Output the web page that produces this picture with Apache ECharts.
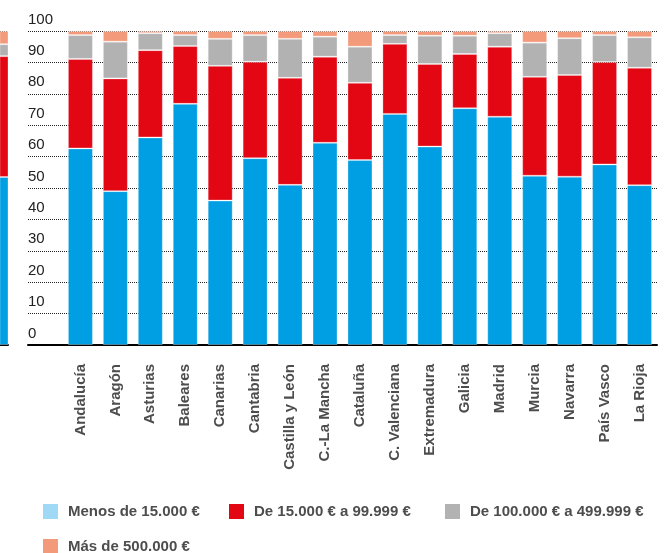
<!DOCTYPE html>
<html>
<head>
<meta charset="utf-8">
<script src="https://cdn.jsdelivr.net/npm/echarts@6/dist/echarts.min.js"></script>
<style>
html,body{margin:0;padding:0;background:#fff;}
#chart{width:664px;height:553px;}
</style>
</head>
<body>
<div id="chart"></div>
<script>
// Data
var categories = ['Andalucía','Aragón','Asturias','Baleares','Canarias','Cantabria','Castilla y León','C.-La Mancha','Cataluña','C. Valenciana','Extremadura','Galicia','Madrid','Murcia','Navarra','País Vasco','La Rioja'];
var seriesNames = ['Menos de 15.000 €','De 15.000 € a 99.999 €','De 100.000 € a 499.999 €','Más de 500.000 €'];
var menos15000   = [62.6, 49.0, 66.1, 76.8, 46.0, 59.5, 51.0, 64.4, 58.9, 73.6, 63.2, 75.4, 72.7, 53.9, 53.6, 57.5, 50.9];
var de15a99999   = [28.5, 35.9, 27.8, 18.4, 42.9, 30.7, 34.1, 27.4, 24.6, 22.3, 26.3, 17.3, 22.3, 31.5, 32.4, 32.6, 37.4];
var de100a499999 = [ 7.6, 11.7,  5.4,  3.5,  8.6,  8.5, 12.4,  6.4, 11.5,  2.8,  9.0,  5.8,  4.3, 10.9, 11.7,  8.6,  9.7];
var mas500000    = [ 1.3,  3.4,  0.7,  1.3,  2.5,  1.3,  2.5,  1.8,  5.0,  1.3,  1.5,  1.5,  0.7,  3.7,  2.3,  1.3,  2.0];
var yTicks = [0,10,20,30,40,50,60,70,80,90,100];
// cropped neighbouring chart visible at the left edge
var neighbourValues = [53.5, 38.5, 3.8, 4.2];

var barColors = ['#009ee2','#e30613','#b2b2b2','#f39a7b'];
var legendColors = ['#a0d9f6','#e30613','#b2b2b2','#f39a7b'];
var dataSets = [menos15000, de15a99999, de100a499999, mas500000];

var chart = echarts.init(document.getElementById('chart'));

var xCats = [''].concat(categories);
var series = [];
dataSets.forEach(function(arr, i){
  series.push({
    name: seriesNames[i], type: 'bar', stack: 'total', barWidth: 25,
    xAxisIndex: 0, yAxisIndex: 0,
    itemStyle: {color: barColors[i], borderColor: 'rgba(255,255,255,0.3)', borderWidth: 1},
    emphasis: {disabled: true},
    data: [null].concat(arr)
  });
});
neighbourValues.forEach(function(v, i){
  series.push({
    name: 'n' + i, type: 'bar', stack: 'nb', barWidth: 25,
    xAxisIndex: 1, yAxisIndex: 1,
    itemStyle: {color: barColors[i], borderColor: 'rgba(255,255,255,0.3)', borderWidth: 1},
    data: [v]
  });
});

var legendPos = [[38,499],[224,499],[440,499],[38,534]];
var legends = seriesNames.map(function(n, i){
  return {
    left: legendPos[i][0], top: legendPos[i][1],
    itemWidth: 15, itemHeight: 15, icon: 'rect',
    selectedMode: false,
    data: [{name: n, itemStyle: {color: legendColors[i], borderWidth: 0}}],
    textStyle: {fontFamily: 'Liberation Sans', fontWeight: 'bold', fontSize: 15, color: '#4d4d4d', lineHeight: 15, padding: [0,0,0,5]}
  };
});

var splitLine = {show: true, lineStyle: {type: [1,1], color: '#222', width: 1}};

chart.setOption({
  animation: false,
  legend: legends,
  grid: [
    {left: 28, right: 7, top: 31, bottom: 208},
    {left: -22, width: 30, top: 31, bottom: 208}
  ],
  xAxis: [
    {type: 'category', gridIndex: 0, data: xCats,
     axisTick: {show: false},
     axisLine: {lineStyle: {color: '#000', width: 2}},
     axisLabel: {rotate: 90, interval: 0, margin: 19, fontFamily: 'Liberation Sans', fontWeight: 'bold', fontSize: 15, color: '#4d4d4d'}},
    {type: 'category', gridIndex: 1, data: [''],
     axisTick: {show: false}, axisLabel: {show: false},
     axisLine: {lineStyle: {color: '#000', width: 2}}}
  ],
  yAxis: [
    {type: 'value', gridIndex: 0, min: yTicks[0], max: yTicks[yTicks.length-1], interval: 10,
     axisLine: {show: false}, axisTick: {show: false},
     splitLine: splitLine,
     axisLabel: {inside: true, margin: 0, verticalAlign: 'bottom', fontFamily: 'Liberation Sans', fontSize: 15, color: '#222', lineHeight: 15, padding: [0,0,4,0],
       formatter: function(v){ return yTicks.indexOf(v) >= 0 ? String(v) : ''; }}},
    {type: 'value', gridIndex: 1, min: 0, max: 100, interval: 20,
     axisLine: {show: false}, axisTick: {show: false}, axisLabel: {show: false},
     splitLine: splitLine}
  ],
  series: series
});
</script>
</body>
</html>
